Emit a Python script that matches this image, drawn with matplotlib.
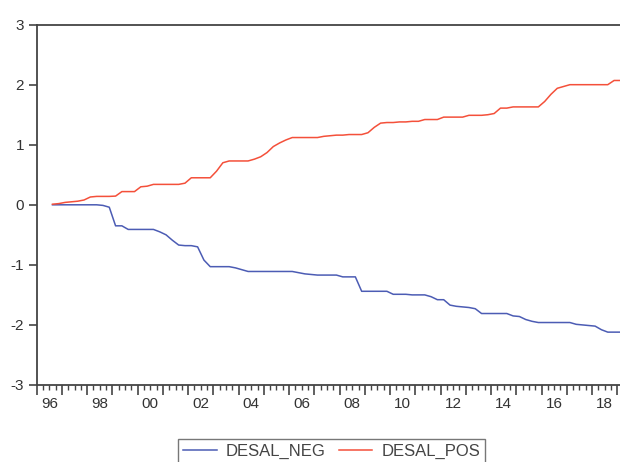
import numpy as np
import pandas as pd
import matplotlib
matplotlib.use("Agg")
import matplotlib.pyplot as plt

plt.rcParams['font.family'] = ['Liberation Sans', 'DejaVu Sans']
plt.rcParams['axes.unicode_minus'] = False

# quarterly series, 1996Q3 - 2019Q1
start_q = "1996Q3"
desal_neg = [0, 0, 0, 0, 0, 0, 0, 0, -0.01, -0.04,
             -0.35, -0.35, -0.41, -0.41, -0.41, -0.41, -0.41, -0.45, -0.50, -0.59,
             -0.67, -0.68, -0.68, -0.70, -0.92, -1.03, -1.03, -1.03, -1.03, -1.05,
             -1.08, -1.11, -1.11, -1.11, -1.11, -1.11, -1.11, -1.11, -1.11, -1.13,
             -1.15, -1.16, -1.17, -1.17, -1.17, -1.17, -1.20, -1.20, -1.20, -1.44,
             -1.44, -1.44, -1.44, -1.44, -1.49, -1.49, -1.49, -1.50, -1.50, -1.50,
             -1.53, -1.58, -1.58, -1.67, -1.69, -1.70, -1.71, -1.73, -1.81, -1.81,
             -1.81, -1.81, -1.81, -1.85, -1.86, -1.91, -1.94, -1.96, -1.96, -1.96,
             -1.96, -1.96, -1.96, -1.99, -2.00, -2.01, -2.02, -2.08, -2.12, -2.12,
             -2.12]
desal_pos = [0.01, 0.02, 0.04, 0.05, 0.06, 0.08, 0.13, 0.14, 0.14, 0.14,
             0.145, 0.22, 0.22, 0.22, 0.30, 0.31, 0.34, 0.34, 0.34, 0.34,
             0.34, 0.36, 0.45, 0.45, 0.45, 0.45, 0.56, 0.70, 0.73, 0.73,
             0.73, 0.73, 0.76, 0.80, 0.87, 0.97, 1.03, 1.08, 1.12, 1.12,
             1.12, 1.12, 1.12, 1.14, 1.15, 1.16, 1.16, 1.17, 1.17, 1.17,
             1.20, 1.29, 1.36, 1.37, 1.37, 1.38, 1.38, 1.39, 1.39, 1.42,
             1.42, 1.42, 1.46, 1.46, 1.46, 1.46, 1.49, 1.49, 1.49, 1.50,
             1.52, 1.61, 1.61, 1.63, 1.63, 1.63, 1.63, 1.63, 1.72, 1.84,
             1.94, 1.97, 2.00, 2.00, 2.00, 2.00, 2.00, 2.00, 2.00, 2.07,
             2.07]
series_names = ["DESAL_NEG", "DESAL_POS"]
year_labels = ["96", "98", "00", "02", "04", "06", "08", "10", "12", "14", "16", "18"]
y_ticks = [-3, -2, -1, 0, 1, 2, 3]

periods = pd.period_range(start_q, periods=len(desal_neg), freq="Q")
t = np.array([p.year + (p.quarter - 0.5) / 4 for p in periods])  # quarter midpoints

fig = plt.figure(figsize=(6.2, 4.62), dpi=100)
ax = fig.add_axes([0.0592, 0.1667, 0.9465, 0.780])

ax.plot(t, desal_neg, color="#4C5CB4", lw=1.1, label=series_names[0])
ax.plot(t, desal_pos, color="#F4503A", lw=1.1, label=series_names[1])

ax.set_xlim(1996, 2019.25)
ax.set_ylim(-3, 3)

axcol = "#444444"
for s in ["left", "bottom", "top"]:
    ax.spines[s].set_color(axcol)
    ax.spines[s].set_linewidth(1.3)
ax.spines["right"].set_visible(False)

ax.set_yticks(y_ticks)
ax.tick_params(axis="y", direction="out", length=6, width=1.2, color=axcol,
               labelsize=11, labelcolor="#333333", pad=3)

# year ticks + quarter minor ticks, labels at year centres every 2 years
ax.set_xticks(np.arange(1996, 2020))
ax.set_xticklabels([])
ax.set_xticks(np.arange(1996, 2019.3, 0.25), minor=True)
ax.tick_params(axis="x", which="major", direction="out", length=7, width=1.2, color=axcol)
ax.tick_params(axis="x", which="minor", direction="out", length=3.5, width=1.0, color=axcol)

sec = ax.secondary_xaxis("bottom")
sec.set_xticks([int("19" + l) + 0.5 if l[0] == "9" else int("20" + l) + 0.5 for l in year_labels])
sec.set_xticklabels(year_labels)
sec.tick_params(length=0, labelsize=11, labelcolor="#333333", pad=9)
sec.spines["bottom"].set_visible(False)

leg = ax.legend(loc="upper center", bbox_to_anchor=(0.535, 0.0498),
                bbox_transform=fig.transFigure, ncol=2, frameon=True,
                fancybox=False, edgecolor="#555555", fontsize=12,
                handlelength=2.0, columnspacing=0.8, handletextpad=0.55,
                borderpad=0.3, borderaxespad=0)
leg.get_frame().set_linewidth(1.0)
for txt in leg.get_texts():
    txt.set_color("#444444")

fig.savefig("out.png", dpi=100)
